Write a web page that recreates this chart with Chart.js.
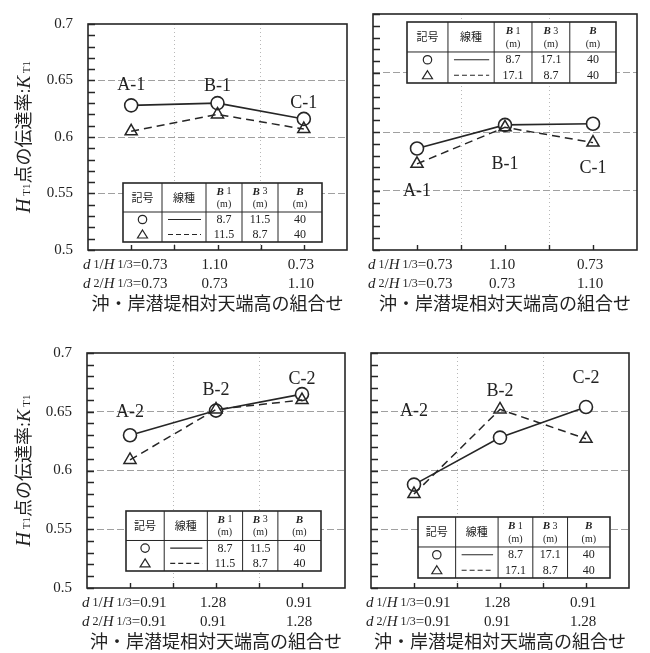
<!DOCTYPE html>
<html>
<head>
<meta charset="utf-8">
<script src="https://cdn.jsdelivr.net/npm/chart.js@4.4.0/dist/chart.umd.min.js"></script>
<style>
  html, body { margin: 0; padding: 0; background: #fff; }
  #wrap { position: relative; width: 650px; height: 653px; overflow: hidden; background: #fff; }
  canvas { position: absolute; }
</style>
</head>
<body>
<div id="wrap">
  <canvas id="p1" width="360" height="325" style="left:0;top:0;width:360px;height:325px"></canvas>
  <canvas id="p2" width="290" height="325" style="left:360px;top:0;width:290px;height:325px"></canvas>
  <canvas id="p3" width="360" height="328" style="left:0;top:325px;width:360px;height:328px"></canvas>
  <canvas id="p4" width="290" height="328" style="left:360px;top:325px;width:290px;height:328px"></canvas>
</div>
<script>
// ---- cases and crest-height ratios ----
const cases1 = ['A-1', 'B-1', 'C-1'];
const cases2 = ['A-2', 'B-2', 'C-2'];
const d1Ratio1 = ['0.73', '1.10', '0.73'];
const d2Ratio1 = ['0.73', '0.73', '1.10'];
const d1Ratio2 = ['0.91', '1.28', '0.91'];
const d2Ratio2 = ['0.91', '0.91', '1.28'];

// ---- transmission coefficient K_T1 ----
const kt1TopLeftCircle    = [0.628, 0.630, 0.616];
const kt1TopLeftTri       = [0.605, 0.620, 0.607];
const kt1TopRightCircle   = [0.586, 0.606, 0.607];
const kt1TopRightTri      = [0.573, 0.604, 0.591];
const kt1BottomLeftCircle = [0.630, 0.651, 0.665];
const kt1BottomLeftTri    = [0.609, 0.652, 0.660];
const kt1BottomRightCircle= [0.588, 0.628, 0.654];
const kt1BottomRightTri   = [0.580, 0.652, 0.627];

// ---- crown widths B1, B3, B (m) ----
const widthsCircleA = ['8.7', '11.5', '40'];
const widthsTriA    = ['11.5', '8.7', '40'];
const widthsCircleB = ['8.7', '17.1', '40'];
const widthsTriB    = ['17.1', '8.7', '40'];

// ---- axis text ----
const yTickValues = [0.5, 0.55, 0.6, 0.65, 0.7];
const yMinorStep = 0.01;
const xAxisTitle = '沖・岸潜堤相対天端高の組合せ';
const tableHead = ['記号', '線種'];
const widthHead = [['B', ' 1'], ['B', ' 3'], ['B', '']];

const INK = '#262626';
const SERIF = '"Liberation Serif", "DejaVu Serif", serif';
const CJK = '"Noto Sans CJK JP", "Noto Sans CJK SC", sans-serif';

function drawRuns(ctx, runs, x, y, align) {
  let total = 0;
  runs.forEach(r => { ctx.font = r.f; r.w = ctx.measureText(r.t).width; total += r.w; });
  let cx = align === 'center' ? x - total / 2 : (align === 'right' ? x - total : x);
  ctx.textAlign = 'left';
  runs.forEach(r => { ctx.font = r.f; ctx.fillText(r.t, cx, y + (r.dy || 0)); cx += r.w; });
  return total;
}

function drawTable(ctx, x, y, w, h, circleRow, triRow) {
  const fr = [39, 44, 36, 36, 44];
  const sum = fr.reduce((s, v) => s + v, 0);
  const xs = [x];
  fr.forEach(f => xs.push(xs[xs.length - 1] + w * f / sum));
  const hh = h * 29 / 59;
  const rh = (h - hh) / 2;
  ctx.save();
  ctx.fillStyle = '#fff';
  ctx.fillRect(x, y, w, h);
  ctx.strokeStyle = INK;
  ctx.lineWidth = 1;
  ctx.beginPath();
  for (let i = 1; i < 5; i++) { ctx.moveTo(xs[i], y); ctx.lineTo(xs[i], y + h); }
  ctx.moveTo(x, y + hh); ctx.lineTo(x + w, y + hh);
  ctx.stroke();
  ctx.lineWidth = 1.6;
  ctx.strokeRect(x, y, w, h);

  ctx.fillStyle = '#222';
  ctx.textBaseline = 'middle';
  ctx.textAlign = 'center';
  ctx.font = '11px ' + CJK;
  ctx.fillText(tableHead[0], (xs[0] + xs[1]) / 2, y + hh / 2);
  ctx.fillText(tableHead[1], (xs[1] + xs[2]) / 2, y + hh / 2);
  widthHead.forEach((hd, j) => {
    const cx = (xs[2 + j] + xs[3 + j]) / 2;
    drawRuns(ctx, [{ t: hd[0], f: 'italic bold 11px ' + SERIF }, { t: hd[1], f: '10px ' + SERIF }], cx, y + hh * 0.3, 'center');
    ctx.textAlign = 'center';
    ctx.font = '10px ' + SERIF;
    ctx.fillText('(m)', cx, y + hh * 0.74);
  });

  [circleRow, triRow].forEach((row, i) => {
    const cy = y + hh + rh * (i + 0.5);
    const sx = (xs[0] + xs[1]) / 2;
    ctx.strokeStyle = INK;
    ctx.lineWidth = 1.2;
    ctx.beginPath();
    if (i === 0) {
      ctx.arc(sx, cy, 4.2, 0, Math.PI * 2);
    } else {
      ctx.moveTo(sx, cy - 4.5); ctx.lineTo(sx + 5, cy + 3.5); ctx.lineTo(sx - 5, cy + 3.5); ctx.closePath();
    }
    ctx.stroke();
    ctx.beginPath();
    ctx.setLineDash(i === 0 ? [] : [5, 3]);
    ctx.moveTo(xs[1] + 6, cy); ctx.lineTo(xs[2] - 5, cy);
    ctx.stroke();
    ctx.setLineDash([]);
    ctx.textAlign = 'center';
    ctx.font = '12px ' + SERIF;
    row.forEach((v, j) => ctx.fillText(v, (xs[2 + j] + xs[3 + j]) / 2, cy + 0.5));
  });
  ctx.restore();
}

function makeDecor(cfg) {
  return {
    id: 'decor_' + cfg.id,
    beforeDatasetsDraw(chart) {
      const a = chart.chartArea;
      const t = cfg.table;
      drawTable(chart.ctx, a.left + t.dx, a.top + t.dy, t.w, t.h, cfg.tableCircle, cfg.tableTri);
    },
    afterDraw(chart) {
      const a = chart.chartArea, ctx = chart.ctx;
      const xs = chart.scales.x, ys = chart.scales.y;
      ctx.save();
      ctx.setLineDash([]);
      // plot frame
      ctx.strokeStyle = INK;
      ctx.lineWidth = 1.6;
      ctx.strokeRect(a.left, a.top, a.right - a.left, a.bottom - a.top);
      // inward minor ticks on the value axis (every 0.01)
      ctx.lineWidth = 1.4;
      ctx.beginPath();
      const lo = Math.round(ys.min / yMinorStep), hi = Math.round(ys.max / yMinorStep);
      for (let k = lo; k <= hi; k++) {
        const py = Math.round(ys.getPixelForValue(k * yMinorStep)) + 0.5;
        ctx.moveTo(a.left, py); ctx.lineTo(a.left + 7, py);
      }
      // inward ticks on the category axis: centres and boundaries
      for (let i = 0; i < cfg.cases.length; i++) {
        [i, i + 0.5].forEach(v => {
          const px = Math.round(xs.getPixelForValue(v)) + 0.5;
          if (px < a.right - 2) { ctx.moveTo(px, a.bottom); ctx.lineTo(px, a.bottom - 5); }
        });
      }
      ctx.stroke();

      // case labels
      ctx.fillStyle = '#222';
      ctx.textBaseline = 'middle';
      ctx.textAlign = 'center';
      ctx.font = '18px ' + SERIF;
      cfg.cases.forEach((c, i) => {
        const px = xs.getPixelForValue(i);
        const py = ys.getPixelForValue(cfg.circle[i]) + cfg.labelDy[i];
        ctx.fillText(c, px, py);
      });

      // category labels: d1/H1/3 and d2/H1/3
      const rows = [cfg.d1, cfg.d2];
      const rowY = [a.bottom + 15, a.bottom + 34];
      rows.forEach((vals, r) => {
        vals.forEach((v, i) => {
          if (i === 0) {
            drawRuns(ctx, [
              { t: 'd', f: 'italic 15px ' + SERIF },
              { t: ' ' + (r + 1), f: '12px ' + SERIF },
              { t: '/', f: '15px ' + SERIF },
              { t: 'H', f: 'italic 15px ' + SERIF },
              { t: ' 1/3', f: '12px ' + SERIF },
              { t: '=' + v, f: '15px ' + SERIF }
            ], a.left - 5, rowY[r], 'left');
          } else {
            ctx.textAlign = 'center';
            ctx.font = '15px ' + SERIF;
            ctx.fillText(v, xs.getPixelForValue(i) - 3, rowY[r]);
          }
        });
      });

      // x-axis title
      ctx.textAlign = 'center';
      ctx.font = '18px ' + CJK;
      ctx.fillText(xAxisTitle, (a.left + a.right) / 2, a.bottom + 53);

      // y-axis title
      if (cfg.yTitle) {
        ctx.save();
        ctx.translate(23, (a.top + a.bottom) / 2);
        ctx.rotate(-Math.PI / 2);
        ctx.textBaseline = 'alphabetic';
        drawRuns(ctx, [
          { t: 'H', f: 'italic 20px ' + SERIF },
          { t: ' T1', f: '11px ' + SERIF },
          { t: '点の伝達率', f: '18px ' + CJK },
          { t: ':', f: '18px ' + SERIF },
          { t: 'K', f: 'italic 19px ' + SERIF },
          { t: ' T1', f: '11px ' + SERIF }
        ], 0, 7, 'center');
        ctx.restore();
      }
      ctx.restore();
    }
  };
}

function makeChart(cfg) {
  return new Chart(document.getElementById(cfg.id), {
    type: 'line',
    data: {
      labels: cfg.cases,
      datasets: [
        {
          label: '△', data: cfg.tri, order: 0,
          borderColor: INK, borderWidth: 1.5, borderDash: [8, 5],
          pointStyle: 'triangle', pointRadius: 7, pointBorderWidth: 1.5,
          pointBorderColor: INK, pointBackgroundColor: 'rgba(255,255,255,0)', tension: 0
        },
        {
          label: '○', data: cfg.circle, order: 1,
          borderColor: INK, borderWidth: 1.6,
          pointStyle: 'circle', pointRadius: 6.5, pointBorderWidth: 1.6,
          pointBorderColor: INK, pointBackgroundColor: '#fff', tension: 0
        }
      ]
    },
    options: {
      responsive: false,
      animation: false,
      devicePixelRatio: 1,
      layout: { padding: cfg.pad },
      plugins: { legend: { display: false }, tooltip: { enabled: false } },
      events: [],
      scales: {
        x: {
          type: 'category',
          offset: true,
          afterFit: s => { s.height = cfg.xH; },
          ticks: { display: false },
          grid: {
            offset: true,
            drawTicks: false,
            lineWidth: 1,
            color: ctx => (ctx.index === 1 || ctx.index === 2) ? '#b8b8b8' : 'rgba(0,0,0,0)'
          },
          border: { display: false, dash: [1, 3] }
        },
        y: {
          min: yTickValues[0],
          max: yTickValues[yTickValues.length - 1],
          afterFit: s => { s.width = cfg.yW; },
          afterBuildTicks: s => { s.ticks = yTickValues.map(v => ({ value: v })); },
          ticks: {
            display: cfg.yTicks,
            autoSkip: false,
            padding: 15,
            color: '#222',
            font: { family: SERIF, size: 15 },
            callback: v => String(v)
          },
          grid: {
            drawTicks: false,
            lineWidth: 1,
            color: ctx => {
              if (!ctx.tick) return 'rgba(0,0,0,0)';
              const v = ctx.tick.value;
              return (v > yTickValues[0] && v < yTickValues[yTickValues.length - 1]) ? '#a0a0a0' : 'rgba(0,0,0,0)';
            }
          },
          border: { display: false, dash: [7, 3] }
        }
      }
    },
    plugins: [makeDecor(cfg)]
  });
}

makeChart({
  id: 'p1', cases: cases1, d1: d1Ratio1, d2: d2Ratio1,
  circle: kt1TopLeftCircle, tri: kt1TopLeftTri,
  tableCircle: widthsCircleA, tableTri: widthsTriA,
  table: { dx: 35, dy: 159, w: 199, h: 59 },
  labelDy: [-20, -17, -16],
  pad: { left: 0, top: 14, right: 13, bottom: 0 }, yW: 88, xH: 75,
  yTicks: true, yTitle: true
});
makeChart({
  id: 'p2', cases: cases1, d1: d1Ratio1, d2: d2Ratio1,
  circle: kt1TopRightCircle, tri: kt1TopRightTri,
  tableCircle: widthsCircleB, tableTri: widthsTriB,
  table: { dx: 34, dy: 8, w: 209, h: 61 },
  labelDy: [43, 39, 45],
  pad: { left: 0, top: 14, right: 13, bottom: 0 }, yW: 13, xH: 75,
  yTicks: false, yTitle: false
});
makeChart({
  id: 'p3', cases: cases2, d1: d1Ratio2, d2: d2Ratio2,
  circle: kt1BottomLeftCircle, tri: kt1BottomLeftTri,
  tableCircle: widthsCircleA, tableTri: widthsTriA,
  table: { dx: 39, dy: 158, w: 195, h: 60 },
  labelDy: [-23, -20, -15],
  pad: { left: 0, top: 28, right: 15, bottom: 0 }, yW: 87, xH: 65,
  yTicks: true, yTitle: true
});
makeChart({
  id: 'p4', cases: cases2, d1: d1Ratio2, d2: d2Ratio2,
  circle: kt1BottomRightCircle, tri: kt1BottomRightTri,
  tableCircle: widthsCircleB, tableTri: widthsTriB,
  table: { dx: 47, dy: 164, w: 192, h: 61 },
  labelDy: [-73, -46, -29],
  pad: { left: 0, top: 28, right: 21, bottom: 0 }, yW: 11, xH: 65,
  yTicks: false, yTitle: false
});
</script>
</body>
</html>
